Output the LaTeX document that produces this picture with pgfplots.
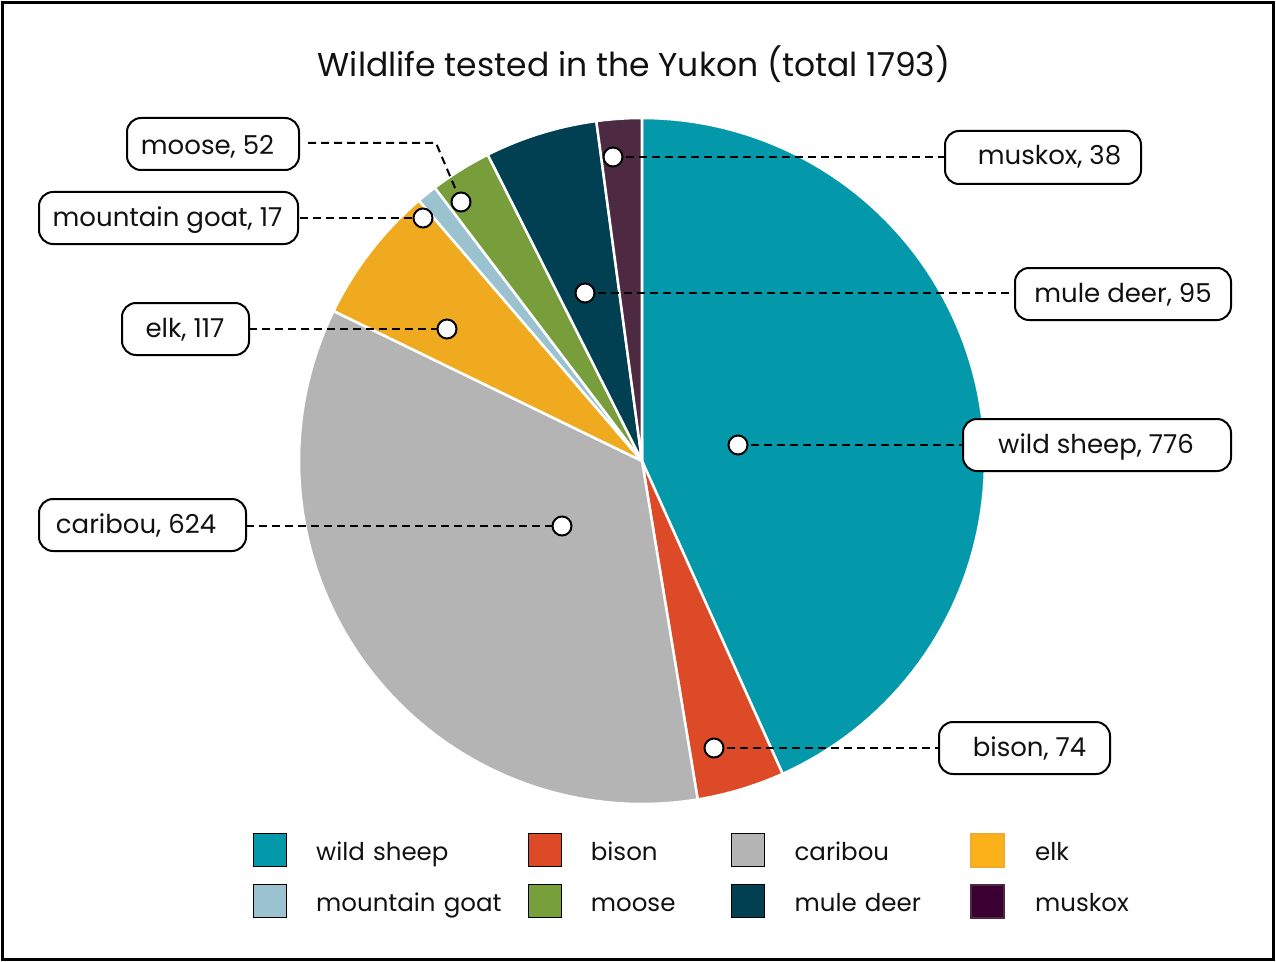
\documentclass[border=0pt]{standalone}
\usepackage{pgfplots}
\usepackage{pgfplotstable}
\pgfplotsset{compat=1.18}
\usepackage{fontspec}
\setmainfont{Poppins}

\definecolor{pc0}{HTML}{0399AA}
\definecolor{pc1}{HTML}{DC4A27}
\definecolor{pc2}{HTML}{B5B4B5}
\definecolor{pc3}{HTML}{F0AA1F}
\definecolor{pc4}{HTML}{9BC3CF}
\definecolor{pc5}{HTML}{789E3C}
\definecolor{pc6}{HTML}{004052}
\definecolor{pc7}{HTML}{4E2A42}
\definecolor{lc3}{HTML}{FBB11A}
\definecolor{lb3}{HTML}{F0AA2F}
\definecolor{lc5}{HTML}{78A03A}
\definecolor{lc7}{HTML}{3B0032}
\definecolor{lb7}{HTML}{4E2A40}
\definecolor{txt}{HTML}{111111}

\pgfplotstableread{
label value
sheep 776
bison 74
caribou 624
elk 117
goat 17
moose 52
muledeer 95
muskox 38
}\pietable

\newcommand{\lblfont}{\fontsize{26bp}{31bp}\selectfont}
\newcommand{\legfont}{\fontsize{24.5bp}{29bp}\selectfont}

\begin{document}
\begin{tikzpicture}
% cumulative angles (clockwise from 12 o'clock)
\def\total{0}
\pgfplotsforeachungrouped \i in {0,...,7}{%
  \pgfplotstablegetelem{\i}{value}\of\pietable
  \pgfmathsetmacro{\tmp}{\total+\pgfplotsretval}%
  \xdef\total{\tmp}%
}
\def\acc{0}
\pgfplotsforeachungrouped \i in {0,...,7}{%
  \pgfplotstablegetelem{\i}{value}\of\pietable
  \pgfmathsetmacro{\frac}{\pgfplotsretval/\total}%
  \pgfmathsetmacro{\tmp}{\acc+\frac*360}%
  \expandafter\xdef\csname aStart\i\endcsname{\acc}%
  \expandafter\xdef\csname aEnd\i\endcsname{\tmp}%
  \xdef\acc{\tmp}%
}
\begin{axis}[
  at={(0,0)}, anchor=south west,
  width=1276bp, height=962bp, scale only axis,
  xmin=0, xmax=1276, ymin=0, ymax=962, y dir=reverse,
  hide axis, clip=false,
  legend columns=4,
  legend image code/.code={\draw[#1] (0bp,-16.5bp) rectangle (33bp,16.5bp); \path (63bp,0bp);},
  legend cell align=left,
  legend style={at={(axis cs:253,875.5)}, anchor=west, draw=none, fill=none,
    inner sep=0pt, outer sep=0pt, row sep=16bp, column sep=0pt,
    font=\legfont, text=txt,
    nodes={inner sep=0pt, outer sep=0pt, text height=24bp, text depth=4bp},
    /tikz/column 2/.style={nodes={text width=211.5bp}},
    /tikz/column 4/.style={nodes={text width=140.5bp}},
    /tikz/column 6/.style={nodes={text width=175.5bp}},
    /tikz/column 8/.style={nodes={text width=110bp}}},
]
\coordinate (BL) at (axis cs:0,962);
\coordinate (TR) at (axis cs:1276,0);
% frame
\draw[black, line width=3bp] (axis cs:2.5,2.5) rectangle (axis cs:1273.5,959.5);
% title
\node[font=\fontsize{33bp}{39bp}\selectfont, text=txt, anchor=base, inner sep=0pt] at (axis cs:634,76.5) {Wildlife tested in the Yukon (total 1793)};

% pie slices
\pgfplotsinvokeforeach{0,...,7}{
  \addplot[forget plot, fill=pc#1, draw=white, line width=2.5bp, line join=round,
    domain=\csname aStart#1\endcsname:\csname aEnd#1\endcsname, samples=90]
    ({642+343*sin(x)},{461-343*cos(x)}) -- (axis cs:642,461) -- cycle;
}

% leader lines
\pgfplotsset{leader/.style={forget plot, black, line width=2bp, dash pattern=on 8bp off 5bp}}
\addplot[leader] coordinates {(308,143) (436,143) (461,202)};
\addplot[leader] coordinates {(300,218) (423,218)};
\addplot[leader] coordinates {(249,329) (447,329)};
\addplot[leader] coordinates {(246,526) (562,526)};
\addplot[leader] coordinates {(613,157) (945,157)};
\addplot[leader] coordinates {(585,293) (1015,293)};
\addplot[leader] coordinates {(738,445) (963,445)};
\addplot[leader] coordinates {(714,748) (939,748)};

% anchor dots
\addplot[forget plot, only marks, mark=*, mark size=9.5bp,
  mark options={fill=white, draw=black, line width=2bp}] coordinates {
  (613,157) (585,293) (461,202) (423,218) (447,329) (562,526) (738,445) (714,748)};

% callout boxes
\tikzset{cbox/.style={draw=black, line width=2bp, rounded corners=14bp, fill=white},
  ctext/.style={inner sep=0pt, text=txt, font=\lblfont, anchor=base}}
\draw[cbox] (axis cs:127,118) rectangle (axis cs:299,170);
\node[ctext] at (axis cs:207.5,155) {moose, 52};
\draw[cbox] (axis cs:39,192) rectangle (axis cs:298,244);
\node[ctext] at (axis cs:167.5,226.5) {mountain goat, 17};
\draw[cbox] (axis cs:122,303) rectangle (axis cs:249,355);
\node[ctext] at (axis cs:185,337.5) {elk, 117};
\draw[cbox] (axis cs:39,499) rectangle (axis cs:246,551);
\node[ctext] at (axis cs:136,533) {caribou, 624};
\draw[cbox] (axis cs:945,131) rectangle (axis cs:1141,184);
\node[ctext] at (axis cs:1049.5,165) {muskox, 38};
\draw[cbox] (axis cs:1015,268) rectangle (axis cs:1231,320);
\node[ctext] at (axis cs:1123,302) {mule deer, 95};
\draw[cbox] (axis cs:963,419) rectangle (axis cs:1231,471);
\node[ctext] at (axis cs:1096,453) {wild sheep, 776};
\draw[cbox] (axis cs:939,722) rectangle (axis cs:1110,774);
\node[ctext] at (axis cs:1029.5,756) {bison, 74};

% legend
\addlegendimage{fill=pc0, draw=none}\addlegendentry{wild sheep}
\addlegendimage{fill=pc1, draw=none}\addlegendentry{bison}
\addlegendimage{fill=pc2, draw=none}\addlegendentry{caribou}
\addlegendimage{fill=lc3, draw=lb3, line width=2bp}\addlegendentry{elk}
\addlegendimage{fill=pc4, draw=none}\addlegendentry{mountain goat}
\addlegendimage{fill=lc5, draw=none}\addlegendentry{moose}
\addlegendimage{fill=pc6, draw=none}\addlegendentry{mule deer}
\addlegendimage{fill=lc7, draw=lb7, line width=2bp}\addlegendentry{muskox}
\end{axis}
\pgfresetboundingbox
\path[use as bounding box] (BL) rectangle (TR);
\end{tikzpicture}
\end{document}
